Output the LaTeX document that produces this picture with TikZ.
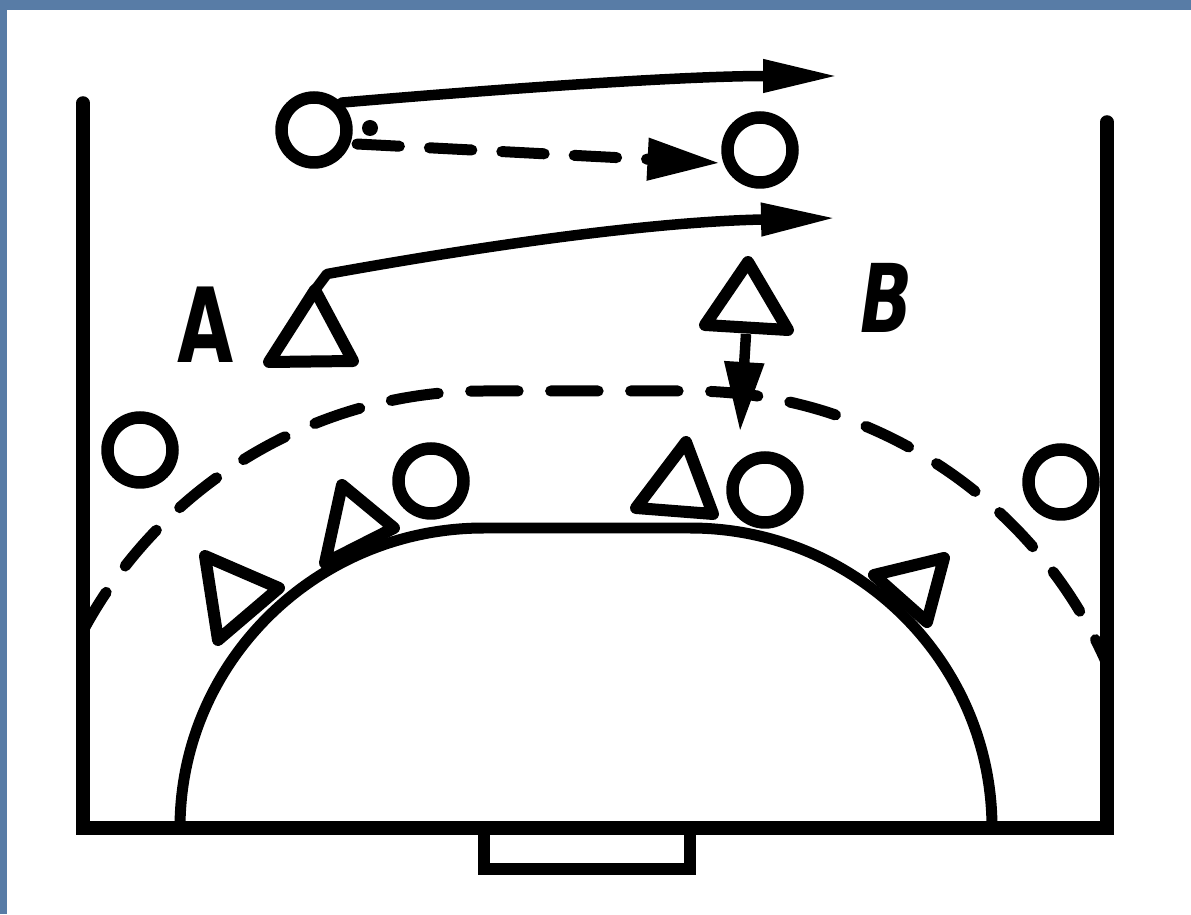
\documentclass[tikz,border=0pt]{standalone}
\usepackage{fontspec}
\setsansfont{DejaVu Sans}
\usetikzlibrary{arrows.meta}
\definecolor{bgblue}{RGB}{88,124,166}
\begin{document}
\begin{tikzpicture}[x=0.02cm,y=0.02cm,
  wall/.style={line width=0.27cm, line cap=round, line join=miter},
  player/.style={circle, draw, line width=0.25cm, minimum size=1.3cm, inner sep=0pt},
  defender/.style={draw, line width=0.24cm, line join=round, line cap=round},
  move/.style={line width=0.21cm, line cap=round, -{Triangle[length=1.5cm,width=0.62cm]}},
  dashmove/.style={line width=0.22cm, line cap=round, dash pattern=on 0.85cm off 0.6cm, -{Triangle[length=1.45cm,width=0.8cm]}},
  dasharc/.style={line width=0.22cm, line cap=round, dash pattern=on 0.95cm off 0.65cm},
  lab/.style={inner sep=0pt}
]
\useasboundingbox (0,0) rectangle (1191,914);
\fill[bgblue] (0,0) rectangle (1191,914);
\fill[white] (7,0) rectangle (1191,904);

% court outline
\draw[wall] (83,811) -- (83,86) -- (1107,86) -- (1107,792);
% goal
\draw[wall, line width=0.25cm] (484,86) -- (484,45) -- (690,45) -- (690,86);
% goal area line
\draw[line width=0.22cm] (180,86) arc[start angle=180,end angle=90,x radius=304,y radius=300]
  -- (690,386) arc[start angle=90,end angle=0,x radius=302,y radius=300];
% free throw line (dashed)
\draw[dasharc] (81.8,280.9) arc[start angle=152.1,end angle=90,radius=455]
  -- (690,523) arc[start angle=90,end angle=23.6,radius=455];

% attackers
\node[player] (c1) at (314,784) {};
\node[player] (c2) at (760,764) {};
\node[player] (c3) at (140,464) {};
\node[player] (c4) at (431,433) {};
\node[player] (c5) at (765,424) {};
\node[player] (c6) at (1061,432) {};

% ball
\fill (370,786) circle[radius=8];

% defenders
\coordinate (tAtop) at (315,624); \coordinate (tAl) at (269,552); \coordinate (tAr) at (353,553);
\coordinate (tBtop) at (748,652); \coordinate (tBl) at (705,589); \coordinate (tBr) at (788,584);
\coordinate (t1a) at (205,358); \coordinate (t1b) at (279,326); \coordinate (t1c) at (218,274);
\coordinate (t2a) at (342,429); \coordinate (t2b) at (325,351); \coordinate (t2c) at (394,386);
\coordinate (t3a) at (686,472); \coordinate (t3b) at (636,406); \coordinate (t3c) at (713,400);
\coordinate (t4a) at (874,339); \coordinate (t4b) at (944,356); \coordinate (t4c) at (927,292);
\draw[defender] (tAtop) -- (tAl) -- (tAr) -- cycle;
\draw[defender] (tBtop) -- (tBl) -- (tBr) -- cycle;
\draw[defender] (t1a) -- (t1b) -- (t1c) -- cycle;
\draw[defender] (t2a) -- (t2b) -- (t2c) -- cycle;
\draw[defender] (t3a) -- (t3b) -- (t3c) -- cycle;
\draw[defender] (t4a) -- (t4b) -- (t4c) -- cycle;

% labels
\node[lab] (labA) at (206,589) {\scalebox{0.7}[1]{\fontsize{59}{60}\selectfont\sffamily\bfseries A}};
\node[lab] (labB) at (887,616) {\scalebox{0.72}[1]{\fontsize{54}{55}\selectfont\sffamily\bfseries\itshape B}};

% movements
\coordinate (e1) at (838,838);
\draw[move] (c1.45) .. controls (500,825) and (680,838) .. (e1);
\coordinate (d1) at (357,770);
\coordinate (d2) at (720,751);
\draw[dashmove] (d1) -- (d2);
\coordinate (aK) at (327,640);
\coordinate (e3) at (836,696);
\draw[move, line join=round] (tAtop) -- (aK) .. controls (460,664) and (640,692) .. (e3);
\coordinate (bS) at (746,580);
\coordinate (bE) at (740,482);
\draw[line width=0.21cm, -{Triangle[length=1.4cm,width=0.75cm]}] (bS) -- (bE);
\end{tikzpicture}
\end{document}
